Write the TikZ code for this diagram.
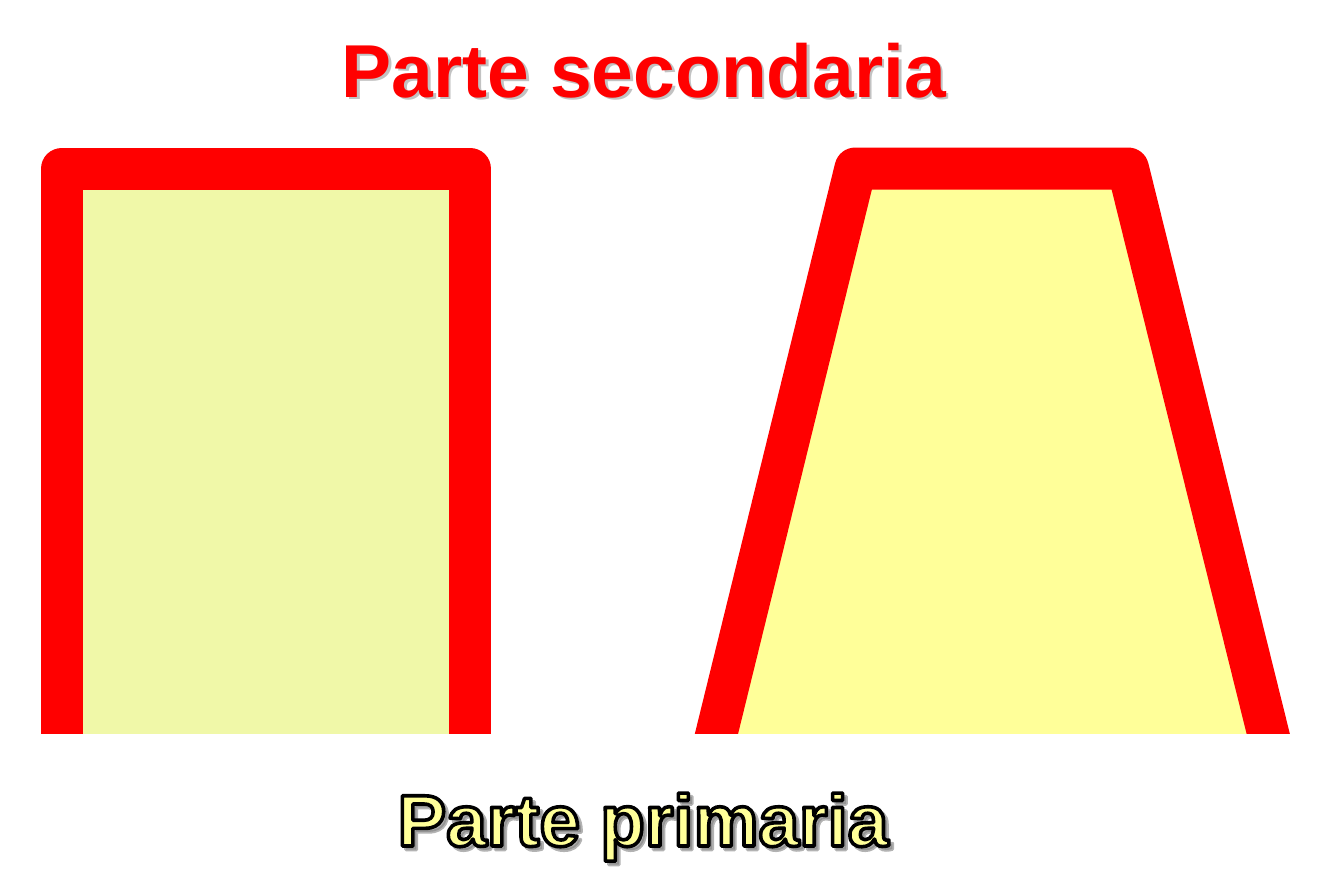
\documentclass[tikz,border=0pt]{standalone}
\usepackage{fontspec}
\setmainfont{Liberation Sans}
\definecolor{wallred}{HTML}{FF0000}
\definecolor{leftfill}{HTML}{F0F8A8}
\definecolor{rightfill}{HTML}{FFFF99}
% text drawn filled and stroked (render mode 2)
\newcommand{\strokedtext}[2]{\special{pdf:literal direct q 2 Tr #1 RG 1.8 w 1 j}#2\special{pdf:literal direct Q}}
\tikzset{
  wall/.style={draw=wallred, line width=21pt, line join=round, line cap=butt},
  bigtext/.style={font=\fontsize{37.5}{40}\selectfont\bfseries, anchor=base, inner sep=0pt}
}
\begin{document}
\begin{tikzpicture}[x=0.5pt,y=-0.5pt]
  \useasboundingbox (0,0) rectangle (1331,875);

  \begin{scope}
    \clip (0,0) rectangle (1331,733.5);
    % left part
    \fill[leftfill] (62,168.5) rectangle (470,760);
    \draw[wall] (62,760) -- (62,168.5) -- (470,168.5) -- (470,760);
    % right part
    \fill[rightfill] (710,760) -- (855.4,168.5) -- (1128,168.5) -- (1274.7,760) -- cycle;
    \draw[wall] (710,760) -- (855.4,168.5) -- (1128,168.5) -- (1274.7,760);
  \end{scope}

  \node[bigtext, text=black!40, opacity=0.6] (secondariashadow) at (646.5,99.5) {Parte secondaria};
  \node[bigtext, text=wallred] (secondaria) at (644,97) {Parte secondaria};

  \node[bigtext, font=\fontsize{36.5}{40}\selectfont\bfseries, text=black!50, opacity=0.6] (primariashadow) at (646.5,849.5) {\strokedtext{0.5 0.5 0.5}{Parte primaria}};
  \node[bigtext, font=\fontsize{36.5}{40}\selectfont\bfseries, text=rightfill] (primaria) at (643,846) {\strokedtext{0 0 0}{Parte primaria}};
\end{tikzpicture}
\end{document}
